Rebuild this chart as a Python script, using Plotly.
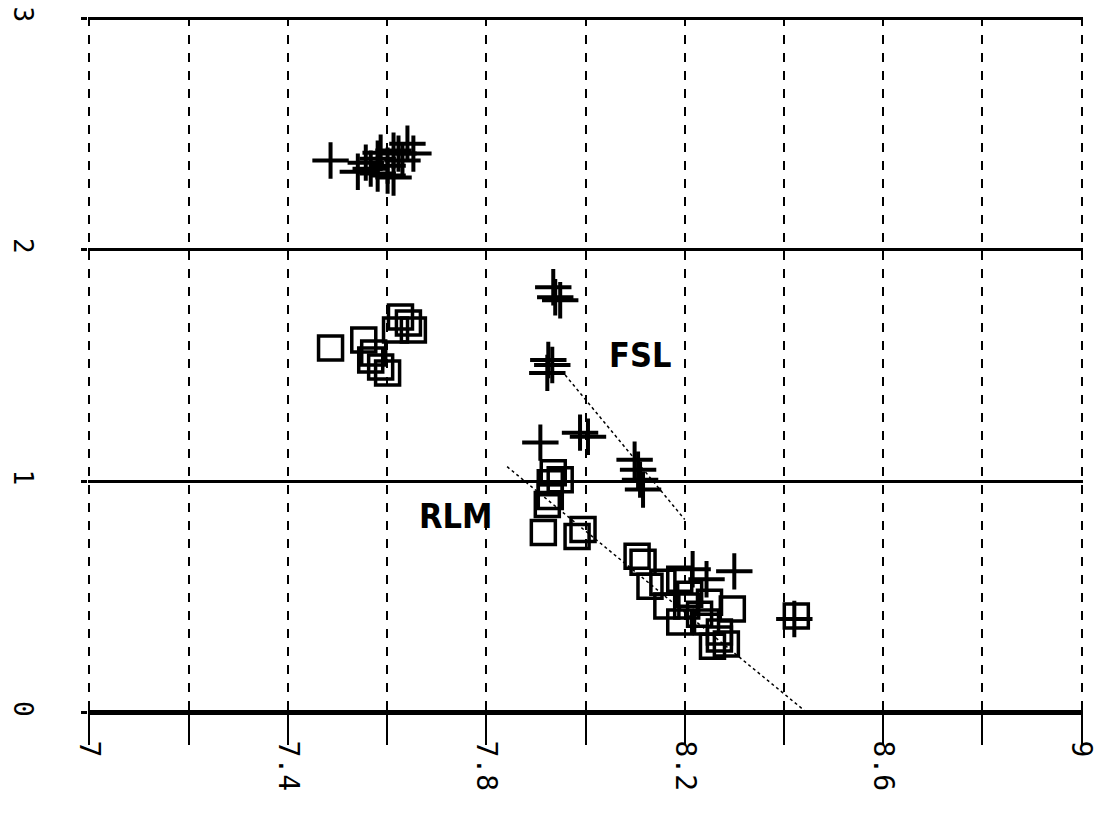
import plotly.graph_objects as go

# FSL series (plus markers)
fsl_x = [7.486, 7.541, 7.557, 7.581, 7.587, 7.601, 7.613, 7.623, 7.641, 7.653,
         7.601, 7.581, 7.613, 7.567, 7.631,
         7.935, 7.939, 7.949, 7.925, 7.923, 7.933, 7.989, 8.005, 7.909,
         8.099, 8.106, 8.110, 8.116,
         8.300, 8.244, 8.216, 8.421]
fsl_y = [2.385, 2.337, 2.376, 2.393, 2.419, 2.363, 2.428, 2.415, 2.458, 2.415,
         2.320, 2.329, 2.312, 2.350, 2.385,
         1.838, 1.795, 1.782, 1.524, 1.468, 1.502, 1.210, 1.192, 1.167,
         1.093, 1.050, 1.007, 0.964,
         0.611, 0.577, 0.620, 0.405]

# RLM series (square markers)
rlm_x = [7.486, 7.553, 7.573, 7.587, 7.601, 7.627, 7.643, 7.653, 7.567, 7.617,
         7.935, 7.929, 7.929, 7.915, 7.995, 7.983, 7.949, 7.923,
         8.104, 8.116, 8.130, 8.156, 8.190, 8.164, 8.204, 8.250, 8.296,
         8.190, 8.244, 8.270, 8.256, 8.284, 8.270, 8.425, 8.230, 8.210]
rlm_y = [1.576, 1.610, 1.554, 1.494, 1.468, 1.709, 1.683, 1.653, 1.524, 1.653,
         1.037, 0.994, 0.934, 0.779, 0.792, 0.762, 1.007, 0.900,
         0.676, 0.650, 0.547, 0.564, 0.577, 0.461, 0.461, 0.478, 0.448,
         0.392, 0.392, 0.349, 0.288, 0.297, 0.319, 0.418, 0.426, 0.512]

# Fitted lines (end points)
fsl_fit_x = [7.959, 8.200]
fsl_fit_y = [1.459, 0.835]
rlm_fit_x = [7.842, 8.447]
rlm_fit_y = [1.063, 0.0]

# Labels
label_text = ["FSL", "RLM"]
label_x = [8.11, 7.738]
label_y = [1.545, 0.848]

# Axes ticks
x_tickvals = [7.0, 7.2, 7.4, 7.6, 7.8, 8.0, 8.2, 8.4, 8.6, 8.8, 9.0]
x_ticktext = ["7", "", "7.4", "", "7.8", "", "8.2", "", "8.6", "", "9"]
y_tickvals = [0, 1, 2, 3]
y_ticktext = ["0", "1", "2", "3"]

fig = go.Figure()

fig.add_trace(go.Scatter(x=fsl_fit_x, y=fsl_fit_y, mode="lines",
                         line=dict(color="black", width=1.5, dash="dot"),
                         showlegend=False, hoverinfo="skip"))
fig.add_trace(go.Scatter(x=rlm_fit_x, y=rlm_fit_y, mode="lines",
                         line=dict(color="black", width=1.5, dash="dot"),
                         showlegend=False, hoverinfo="skip"))

fig.add_trace(go.Scatter(x=rlm_x, y=rlm_y, mode="markers", name="RLM",
                         marker=dict(symbol="square-open", size=24, color="black",
                                     line=dict(width=3.5, color="black")),
                         showlegend=False))
fig.add_trace(go.Scatter(x=fsl_x, y=fsl_y, mode="markers", name="FSL",
                         marker=dict(symbol="cross-thin-open", size=26, color="black",
                                     line=dict(width=4, color="black")),
                         showlegend=False))

for t, x, y in zip(label_text, label_x, label_y):
    fig.add_annotation(x=x, y=y, text="<b>" + t + "</b>", showarrow=False,
                       font=dict(family="DejaVu Sans Condensed, Liberation Sans", size=34, color="black"))

fig.update_layout(
    width=1106, height=815,
    margin=dict(l=88, r=23, t=17, b=101),
    paper_bgcolor="white", plot_bgcolor="white",
    font=dict(family="DejaVu Sans Mono", color="black"),
    xaxis=dict(range=[6.997, 9.003], tickmode="array", tickvals=x_tickvals, ticktext=x_ticktext,
               tickangle=90, tickfont=dict(size=28, family="DejaVu Sans Mono"),
               showgrid=True, gridcolor="black", gridwidth=2, griddash="dash",
               ticks="outside", ticklen=30, tickwidth=2, tickcolor="black",
               ticklabelstandoff=-10, ticklabeloverflow="allow",
               zeroline=False, showline=False, automargin=False),
    yaxis=dict(range=[-0.005, 3.005], tickmode="array", tickvals=y_tickvals, ticktext=y_ticktext,
               tickangle=90, tickfont=dict(size=26, family="DejaVu Sans Mono"),
               showgrid=True, gridcolor="black", gridwidth=3,
               ticks="outside", ticklen=6, tickwidth=3, tickcolor="black",
               ticklabelstandoff=36, ticklabeloverflow="allow",
               zeroline=True, zerolinecolor="black", zerolinewidth=5, showline=False,
               automargin=False),
)

fig.write_html("out.html", config={"displayModeBar": False},
               post_script="document.body.style.margin='0';")
